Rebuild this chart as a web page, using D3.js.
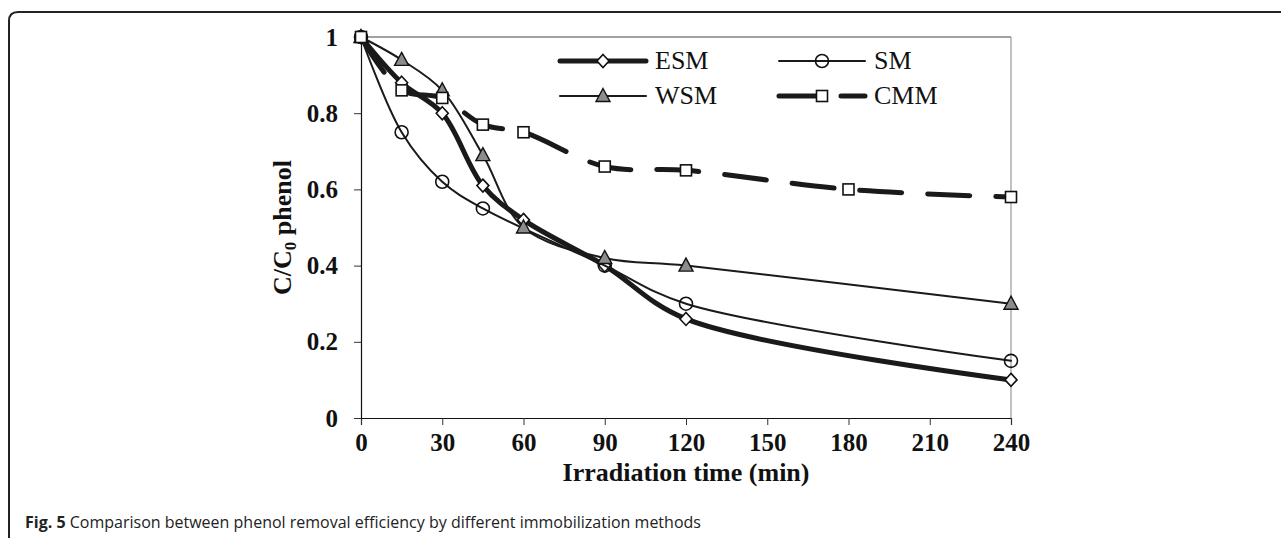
<!DOCTYPE html>
<html>
<head>
<meta charset="utf-8">
<script src="https://cdn.jsdelivr.net/npm/d3@7"></script>
<style>
  body { margin: 0; background: #fff; }
  svg { display: block; }
</style>
</head>
<body>
<div id="chart"></div>
<script>
// data
const seriesNames = ["ESM", "SM", "WSM", "CMM"];
const esmTime = [0, 15, 30, 45, 60, 90, 120, 240];
const esmValues = [1, 0.88, 0.80, 0.61, 0.52, 0.40, 0.26, 0.10];
const smTime = [0, 15, 30, 45, 90, 120, 240];
const smValues = [1, 0.75, 0.62, 0.55, 0.40, 0.30, 0.15];
const wsmTime = [0, 15, 30, 45, 60, 90, 120, 240];
const wsmValues = [1, 0.94, 0.86, 0.69, 0.50, 0.42, 0.40, 0.30];
const cmmTime = [0, 15, 30, 45, 60, 90, 120, 180, 240];
const cmmValues = [1, 0.86, 0.84, 0.77, 0.75, 0.66, 0.65, 0.60, 0.58];
const xTicks = [0, 30, 60, 90, 120, 150, 180, 210, 240];
const yTicks = [0, 0.2, 0.4, 0.6, 0.8, 1];

const width = 1281, height = 538;
const svg = d3.select("#chart").append("svg").attr("width", width).attr("height", height);

// figure frame (rounded top-left corner, runs off the page)
svg.append("path")
    .attr("d", "M9,545 L9,21 Q9,12 18,12 L1290,12")
    .attr("fill", "none")
    .attr("stroke", "#222")
    .attr("stroke-width", 2);

const x = d3.scaleLinear().domain([0, 240]).range([361, 1011]);
const y = d3.scaleLinear().domain([0, 1]).range([418, 37]);

const serif = "'Liberation Serif', 'Times New Roman', serif";

// plot area border (top and right)
svg.append("line").attr("x1", x(0)).attr("x2", x(240)).attr("y1", y(1)).attr("y2", y(1))
    .attr("stroke", "#444").attr("stroke-width", 1.2);
svg.append("line").attr("x1", x(240)).attr("x2", x(240)).attr("y1", y(1)).attr("y2", y(0))
    .attr("stroke", "#999").attr("stroke-width", 1.2);

// axes
const xAxis = svg.append("g").attr("transform", `translate(0,${y(0)})`)
    .call(d3.axisBottom(x).tickValues(xTicks).tickSize(7).tickPadding(8).tickFormat(d3.format("d")));
const yAxis = svg.append("g").attr("transform", `translate(${x(0)},0)`)
    .call(d3.axisLeft(y).tickValues(yTicks).tickSize(7).tickPadding(16).tickFormat(d => d === 0 || d === 1 ? d : d3.format(".1f")(d)));
[xAxis, yAxis].forEach(a => {
    a.select(".domain").attr("stroke", "#111").attr("stroke-width", 1.2);
    a.selectAll(".tick line").attr("stroke", "#333");
    a.selectAll("text")
        .attr("fill", "#111")
        .style("font-family", serif)
        .style("font-weight", "bold")
        .style("font-size", "25px");
});

// axis titles
svg.append("text")
    .attr("x", (x(0) + x(240)) / 2)
    .attr("y", 481)
    .attr("text-anchor", "middle")
    .style("font-family", serif).style("font-weight", "bold").style("font-size", "26px")
    .attr("fill", "#111")
    .text("Irradiation time (min)");

const yTitle = svg.append("text")
    .attr("transform", `translate(291,${(y(0) + y(1)) / 2}) rotate(-90)`)
    .attr("text-anchor", "middle")
    .style("font-family", serif).style("font-weight", "bold").style("font-size", "26px")
    .attr("fill", "#111");
yTitle.append("tspan").text("C/C");
yTitle.append("tspan").attr("dy", 5).style("font-size", "17px").text("0");
yTitle.append("tspan").attr("dy", -5).text(" phenol");

// series definitions
const series = [
    { name: seriesNames[0], t: esmTime, v: esmValues, width: 5, dash: null, marker: "diamond" },
    { name: seriesNames[1], t: smTime, v: smValues, width: 2, dash: null, marker: "circle" },
    { name: seriesNames[2], t: wsmTime, v: wsmValues, width: 2, dash: null, marker: "triangle" },
    { name: seriesNames[3], t: cmmTime, v: cmmValues, width: 5, dash: "42,26", marker: "square" }
];

const line = d3.line()
    .x(d => x(d[0]))
    .y(d => y(d[1]))
    .curve(d3.curveCatmullRom.alpha(0.5));

function drawMarker(g, type, cx, cy) {
    if (type === "diamond") {
        g.append("path").attr("d", `M${cx},${cy - 6.5} L${cx + 6},${cy} L${cx},${cy + 6.5} L${cx - 6},${cy} Z`)
            .attr("fill", "#fff").attr("stroke", "#111").attr("stroke-width", 1.6);
    } else if (type === "circle") {
        g.append("circle").attr("cx", cx).attr("cy", cy).attr("r", 6.5)
            .attr("fill", "none").attr("stroke", "#111").attr("stroke-width", 1.6);
    } else if (type === "triangle") {
        g.append("path").attr("d", `M${cx},${cy - 7.5} L${cx + 7},${cy + 5.5} L${cx - 7},${cy + 5.5} Z`)
            .attr("fill", "#8c8c8c").attr("stroke", "#111").attr("stroke-width", 1.4);
    } else {
        g.append("rect").attr("x", cx - 5.5).attr("y", cy - 5.5).attr("width", 11).attr("height", 11)
            .attr("fill", "#fff").attr("stroke", "#111").attr("stroke-width", 1.6);
    }
}

series.forEach(s => {
    const pts = s.t.map((t, i) => [t, s.v[i]]);
    const g = svg.append("g");
    g.append("path")
        .attr("d", line(pts))
        .attr("fill", "none")
        .attr("stroke", "#1a1a1a")
        .attr("stroke-width", s.width)
        .attr("stroke-linecap", "round")
        .attr("stroke-dasharray", s.dash);
    pts.forEach(p => drawMarker(g, s.marker, x(p[0]), y(p[1])));
});

// legend
const legendPos = [
    { x: 560, y: 61 }, { x: 779, y: 61 },
    { x: 560, y: 96 }, { x: 779, y: 96 }
];
series.forEach((s, i) => {
    const p = legendPos[i];
    const g = svg.append("g");
    g.append("line")
        .attr("x1", p.x).attr("x2", p.x + 86).attr("y1", p.y).attr("y2", p.y)
        .attr("stroke", "#1a1a1a").attr("stroke-width", s.width)
        .attr("stroke-linecap", "round")
        .attr("stroke-dasharray", s.dash ? "40,22" : null);
    drawMarker(g, s.marker, p.x + 43, p.y);
    g.append("text")
        .attr("x", p.x + 95).attr("y", p.y + 8)
        .style("font-family", serif).style("font-size", "26px")
        .attr("fill", "#111")
        .text(s.name);
});

// caption
const cap = svg.append("text")
    .attr("x", 25).attr("y", 528)
    .style("font-family", "'Open Sans', 'Noto Sans', sans-serif").style("font-size", "16px")
    .attr("fill", "#222");
cap.append("tspan").style("font-weight", "bold").text("Fig. 5");
cap.append("tspan").text(" Comparison between phenol removal efficiency by different immobilization methods");
</script>
</body>
</html>
